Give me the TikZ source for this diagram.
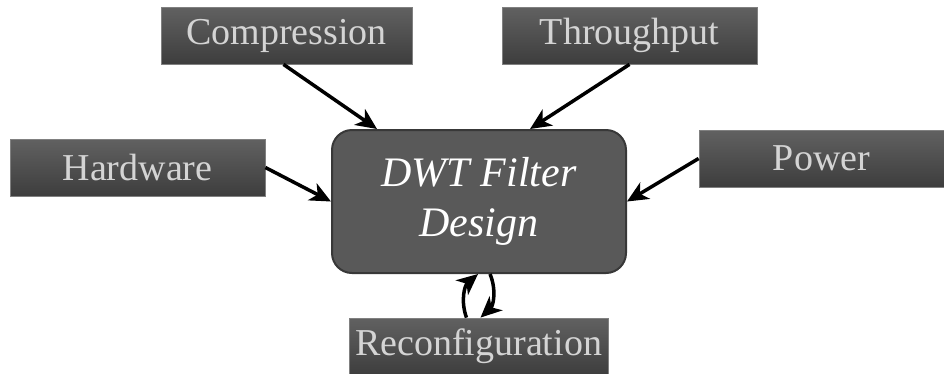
\documentclass[tikz,border=0pt]{standalone}
\usepackage{fontspec}
\setmainfont{Liberation Serif}
\usetikzlibrary{calc,arrows.meta}
\tikzset{%
  factor/.style={draw=black!50,line width=0.8pt,top color=black!62,bottom color=black!76,
    text=black!17,minimum height=57,inner sep=0pt,font=\fontsize{38}{46}\selectfont},
  core/.style={draw=black!78,line width=2pt,fill=black!65,rounded corners=20,
    text=white,minimum width=294,minimum height=143,align=center,
    font=\itshape\fontsize{42}{50}\selectfont},
  link/.style={black,line width=3.5pt,-{Stealth[length=21pt,width=19pt,inset=6pt]}}
}

\begin{document}
\begin{tikzpicture}[x=1pt,y=-1pt]
  \useasboundingbox[fill=white] (0,0) rectangle (944,373);
  \coordinate (c0) at (286.5,35.5);
  \coordinate (c1) at (629.5,35.5);
  \coordinate (c2) at (137.5,167.5);
  \coordinate (c3) at (821.5,158.5);
  \coordinate (c4) at (478.5,346.5);
  \coordinate (c5) at (479,201.5);
  %%
  \node[factor,minimum width=251] (comp) at (c0) {Compression};
  \node[factor,minimum width=255] (thr) at (c1) {Throughput};
  \node[factor,minimum width=255] (hw) at (c2) {Hardware};
  \node[factor,minimum width=245] (pow) at (c3) {Power};
  \node[factor,minimum width=259] (rec) at (c4) {Reconfiguration};
  \node[core] (dwt) at (c5) {DWT Filter\\Design};
  %%
  \draw[link] ([xshift=-3]comp.south) -- ([xshift=46]dwt.north west);
  \draw[link] (thr.south) -- ([xshift=51]dwt.north);
  \draw[link] (hw.east) -- (dwt.west);
  \draw[link] (pow.west) -- (dwt.east);
  \draw[link] ([xshift=-12]rec.north) to[bend left=35] ([xshift=-1]dwt.south);
  \draw[link] ([xshift=11]dwt.south) to[bend left=35] ([xshift=2]rec.north);
\end{tikzpicture}
\end{document}
